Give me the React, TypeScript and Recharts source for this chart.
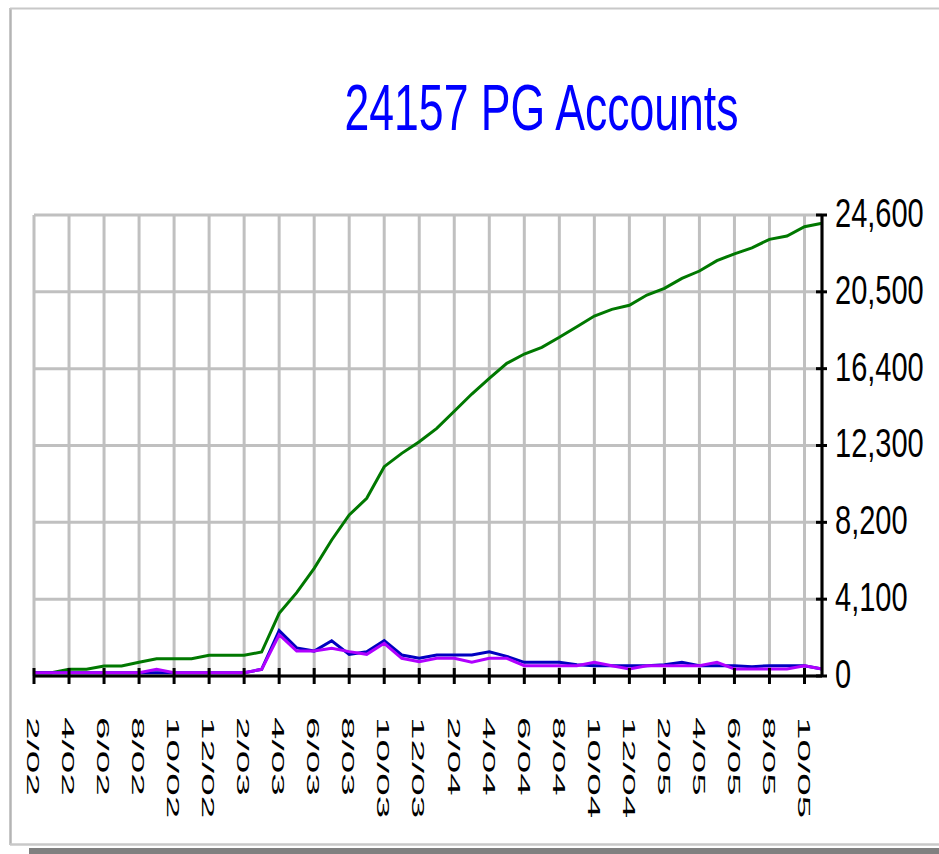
import React from "react";
import { LineChart, Line, XAxis, YAxis, CartesianGrid } from "recharts";

// month index: 0 = 2/02 ... 45 = 11/05
const MONTH_INDEX = [
  0, 1, 2, 3, 4, 5, 6, 7, 8, 9, 10, 11, 12, 13, 14, 15, 16, 17, 18, 19, 20, 21, 22,
  23, 24, 25, 26, 27, 28, 29, 30, 31, 32, 33, 34, 35, 36, 37, 38, 39, 40, 41, 42, 43, 44, 45,
];

const TOTAL_ACCOUNTS = [
  180, 180, 357, 357, 534, 534, 731, 923, 923, 923, 1105, 1105, 1105, 1281, 3346, 4450,
  5746, 7257, 8591, 9480, 11170, 11880, 12503, 13215, 14130, 15047, 15885, 16685, 17182,
  17539, 18073, 18639, 19210, 19567, 19780, 20330, 20687, 21220, 21611, 22160, 22530,
  22850, 23302, 23478, 23976, 24157,
];

const BLUE_SERIES = [
  176, 176, 176, 176, 176, 176, 176, 176, 176, 176, 176, 176, 176, 357, 2420, 1500, 1330,
  1880, 1150, 1297, 1884, 1120, 943, 1120, 1120, 1120, 1297, 1050, 731, 731, 731, 600, 551,
  551, 551, 551, 600, 731, 551, 551, 551, 500, 551, 551, 551, 373,
];

const PURPLE_SERIES = [
  176, 176, 176, 176, 176, 176, 176, 357, 176, 176, 176, 176, 176, 357, 2200, 1330, 1330,
  1480, 1300, 1157, 1743, 943, 765, 943, 943, 731, 943, 943, 551, 551, 551, 551, 731, 551,
  373, 551, 551, 551, 551, 731, 373, 373, 373, 373, 551, 373,
];

const X_TICK_LABELS = [
  "2/02", "4/02", "6/02", "8/02", "10/02", "12/02",
  "2/03", "4/03", "6/03", "8/03", "10/03", "12/03",
  "2/04", "4/04", "6/04", "8/04", "10/04", "12/04",
  "2/05", "4/05", "6/05", "8/05", "10/05",
];

const Y_TICKS = [0, 4100, 8200, 12300, 16400, 20500, 24600];
const TITLE = "24157 PG Accounts";

const data = MONTH_INDEX.map((m, i) => ({
  m,
  total: TOTAL_ACCOUNTS[i],
  blue: BLUE_SERIES[i],
  purple: PURPLE_SERIES[i],
}));
const X_TICKS = X_TICK_LABELS.map((_, i) => i * 2);

const AXIS_Y = 676;
const AXIS_X = 822;
const FONT = "'Liberation Sans', Arial, sans-serif";

function XTick(props: any) {
  const { x, payload } = props;
  const label = X_TICK_LABELS[Math.round(payload.value / 2)];
  return (
    <g>
      <line x1={x} x2={x} y1={AXIS_Y - 8} y2={AXIS_Y + 8} stroke="#000" strokeWidth={3} />
      <g transform={`translate(${x - 1},717) rotate(90) scale(2.38,1)`}>
        <text
          x={0}
          y={0}
          fontSize={17}
          fontFamily={FONT}
          fill="#000"
          dominantBaseline="central"
          textAnchor="start"
        >
          {label}
        </text>
      </g>
    </g>
  );
}

function YTick(props: any) {
  const { y, payload } = props;
  const label = Number(payload.value).toLocaleString("en-US");
  return (
    <g>
      <line x1={AXIS_X - 6} x2={AXIS_X + 5} y1={y} y2={y} stroke="#000" strokeWidth={3} />
      <g transform={`translate(835,${y - 2}) scale(1,1.42)`}>
        <text
          x={0}
          y={0}
          fontSize={29}
          fontFamily={FONT}
          fill="#000"
          dominantBaseline="central"
          textAnchor="start"
        >
          {label}
        </text>
      </g>
    </g>
  );
}

export default function App() {
  return (
    <div style={{ position: "absolute", left: 0, top: 0, width: 939, height: 854, background: "#fff", overflow: "hidden" }}>
      <svg width={939} height={854} style={{ position: "absolute", left: 0, top: 0 }}>
        <line x1={10.5} x2={10.5} y1={8} y2={845} stroke="#b4b4b4" strokeWidth={2.5} />
        <line x1={10} x2={939} y1={8.5} y2={8.5} stroke="#c8c8c8" strokeWidth={2} />
        <line x1={10} x2={939} y1={844.5} y2={844.5} stroke="#c8c8c8" strokeWidth={2.5} />
        <rect x={29} y={848} width={910} height={6} fill="#808080" />
        <g transform="translate(541.5,130) scale(1,1.44)">
          <text x={0} y={0} textAnchor="middle" fontSize={44.6} fontFamily={FONT} fill="#0000ff">
            {TITLE}
          </text>
        </g>
      </svg>
      <div style={{ position: "absolute", left: 0, top: 0 }}>
        <LineChart
          width={939}
          height={854}
          data={data}
          margin={{ top: 215, left: 34, right: 0, bottom: 0 }}
        >
          <CartesianGrid stroke="#c0c0c0" strokeWidth={3} />
          <XAxis
            dataKey="m"
            type="number"
            domain={[0, 45]}
            ticks={X_TICKS}
            interval={0}
            height={178}
            tickLine={false}
            axisLine={{ stroke: "#000", strokeWidth: 3 }}
            tick={<XTick />}
          />
          <YAxis
            orientation="right"
            type="number"
            domain={[0, 24600]}
            ticks={Y_TICKS}
            interval={0}
            width={117}
            tickLine={false}
            axisLine={{ stroke: "#000", strokeWidth: 3 }}
            tick={<YTick />}
          />
          <Line type="linear" dataKey="total" stroke="#007800" strokeWidth={3} dot={false} isAnimationActive={false} />
          <Line type="linear" dataKey="blue" stroke="#0000c0" strokeWidth={3} dot={false} isAnimationActive={false} />
          <Line type="linear" dataKey="purple" stroke="#b000ff" strokeWidth={3} dot={false} isAnimationActive={false} />
        </LineChart>
      </div>
    </div>
  );
}
